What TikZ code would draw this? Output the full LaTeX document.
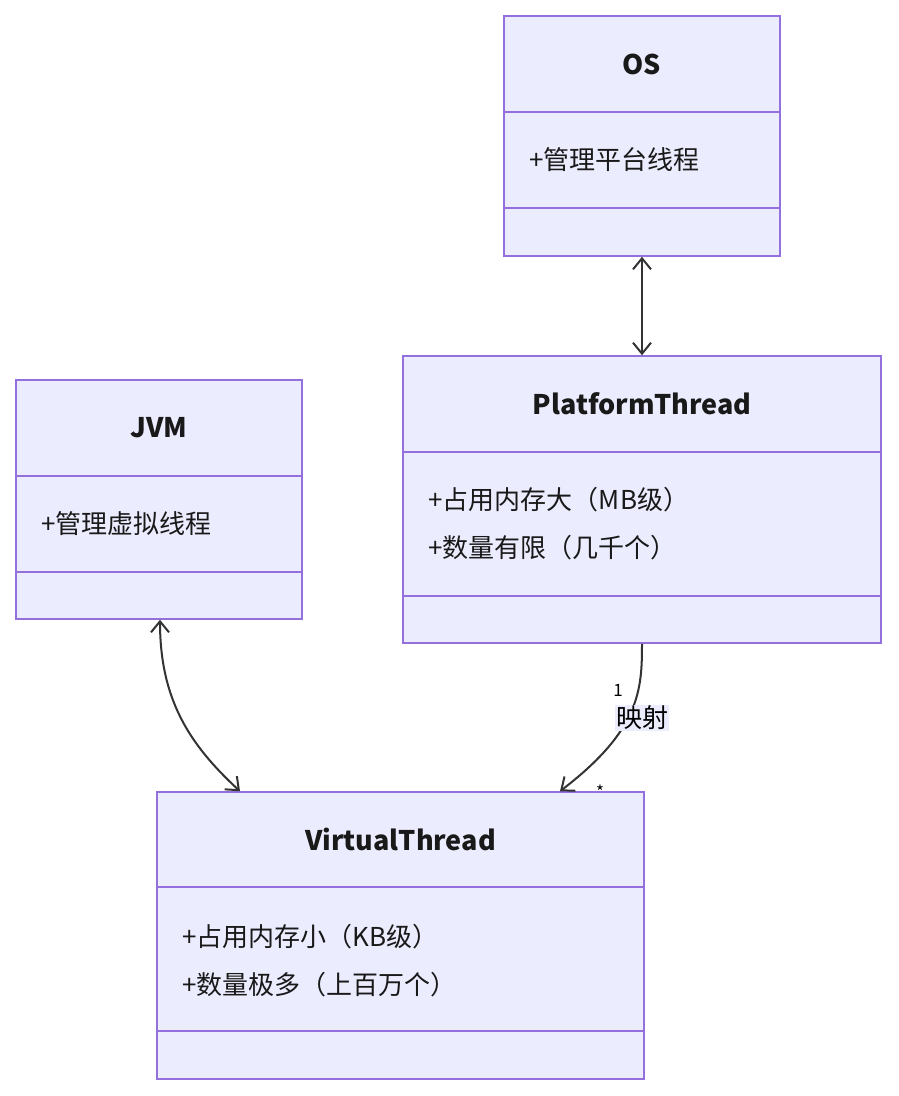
\documentclass[tikz,border=0pt]{standalone}
\usepackage{fontspec}
\setmainfont{Noto Sans CJK SC}
\usetikzlibrary{arrows.meta}
\definecolor{boxfill}{HTML}{ECECFF}
\definecolor{boxline}{HTML}{9370DB}
\definecolor{linkcol}{HTML}{333333}
\tikzset{
  classbox/.style={draw=boxline,fill=boxfill,line width=1.5pt,inner sep=0pt},
  classtitle/.style={font=\fontsize{27}{32}\selectfont\bfseries,text=black!90},
  classattr/.style={font=\fontsize{26}{30}\selectfont,anchor=west,text=black!90},
  link/.style={draw=linkcol,line width=2pt,>={Straight Barb[length=11pt,width=18pt,line width=2pt]}}
}
% \umlclass{name}{x1}{y1}{x2}{y2}{divider1}{divider2}{title}
\newcommand{\umlclass}[8]{%
  \node[classbox,minimum width={(#4-#2)*1pt},minimum height={(#5-#3)*1pt}]
    (#1) at ({(#2+#4)/2},{-(#3+#5)/2}) {};
  \draw[boxline,line width=1.5pt] (#2,-#6) -- (#4,-#6) (#2,-#7) -- (#4,-#7);
  \node[classtitle] (#1-title) at ({(#2+#4)/2},{-(#3+#6)/2}) {#8};
}
\begin{document}
\begin{tikzpicture}[x=1pt,y=1pt]
  \useasboundingbox (0,0) rectangle (898,-1096);
  \umlclass{os}{504}{16}{780}{256}{112}{208}{OS}
  \node[classattr] (os-a1) at (526,-160) {+管理平台线程};
  \umlclass{platform}{403}{356}{881}{643}{452}{596}{PlatformThread}
  \node[classattr] (platform-a1) at (425,-500) {+占用内存大（MB级）};
  \node[classattr] (platform-a2) at (425,-548) {+数量有限（几千个）};
  \umlclass{jvm}{16}{380}{302}{619}{476}{572}{JVM}
  \node[classattr] (jvm-a1) at (38,-524) {+管理虚拟线程};
  \umlclass{virtual}{157}{792}{644}{1079}{887}{1031}{VirtualThread}
  \node[classattr] (virtual-a1) at (179,-937) {+占用内存小（KB级）};
  \node[classattr] (virtual-a2) at (179,-985) {+数量极多（上百万个）};
  % links
  \draw[link,<->] (os.south -| 642,0) -- (platform.north -| 642,0);
  \draw[link,<->] (jvm.south -| 160,0) .. controls (160,-700) and (190,-745) .. (virtual.north -| 240,0);
  \draw[link,->] (platform.south -| 642,0) .. controls (642,-690) and (640,-730) .. (virtual.north -| 560,0);
  \node[fill=boxfill,inner sep=1pt,font=\fontsize{26}{30}\selectfont] (maplabel) at (642,-718) {映射};
  \node[font=\fontsize{17}{20}\selectfont] (one) at (618,-690) {1};
  \node[font=\fontsize{17}{20}\selectfont] (many) at (600,-792) {*};
\end{tikzpicture}
\end{document}
